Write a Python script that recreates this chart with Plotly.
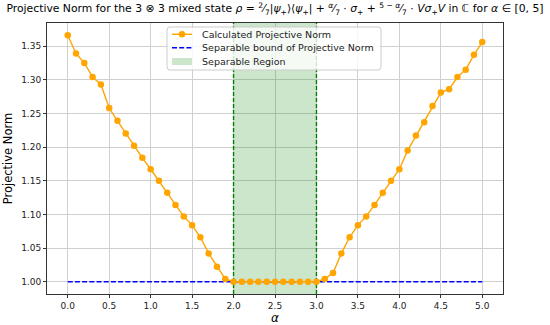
import plotly.graph_objects as go

alpha = [round(i * 0.1, 1) for i in range(51)]
norm = [1.366, 1.339, 1.325, 1.304, 1.293, 1.258, 1.239, 1.220, 1.202, 1.184,
        1.167, 1.150, 1.132, 1.114, 1.097, 1.084, 1.066, 1.042, 1.022, 1.004,
        1.000, 1.000, 1.000, 1.000, 1.000, 1.000, 1.000, 1.000, 1.000, 1.000,
        1.000, 1.004, 1.013, 1.042, 1.066, 1.084, 1.097, 1.114, 1.132, 1.150,
        1.167, 1.195, 1.217, 1.237, 1.261, 1.281, 1.286, 1.304, 1.315, 1.337,
        1.356]
bound = 1.0
sep_lo, sep_hi = 2.0, 3.0
xticks = [0.0, 0.5, 1.0, 1.5, 2.0, 2.5, 3.0, 3.5, 4.0, 4.5, 5.0]
yticks = [1.00, 1.05, 1.10, 1.15, 1.20, 1.25, 1.30, 1.35]
legend_labels = ["Calculated Projective Norm", "Separable bound of Projective Norm", "Separable Region"]

W, H = 550, 325
ML, MR, MT, MB = 47, 47, 23, 31
PW, PH = W - ML - MR, H - MT - MB

yr = [0.9817, 1.3843]
xr = [-0.25, 5.25]

ORANGE = "orange"
BLUE = "#0000ff"
GREEN = "#008000"
DASH = "5px,2.2px"
font = "DejaVu Sans"
fig = go.Figure()

fig.add_trace(go.Scatter(
    x=[sep_lo, sep_hi, sep_hi, sep_lo, sep_lo], y=[yr[0], yr[0], yr[1], yr[1], yr[0]],
    fill="toself", fillcolor="rgba(0,128,0,0.2)", mode="lines", line=dict(width=0),
    name=legend_labels[2], showlegend=False, hoverinfo="skip"))
for xv in (sep_lo, sep_hi):
    fig.add_trace(go.Scatter(x=[xv, xv], y=yr, mode="lines", showlegend=False,
                             line=dict(color=GREEN, width=1.4, dash="4px,2px")))
fig.add_trace(go.Scatter(x=[alpha[0], alpha[-1]], y=[bound, bound], mode="lines",
                         line=dict(color=BLUE, width=1.4, dash=DASH),
                         name=legend_labels[1], showlegend=False))
fig.add_trace(go.Scatter(x=alpha, y=norm, mode="lines+markers",
                         line=dict(color=ORANGE, width=1.4),
                         marker=dict(color=ORANGE, size=6.5),
                         name=legend_labels[0], showlegend=False))

# ---- manual legend (matplotlib-like compact legend) ----
def px(x):
    return (x - ML) / PW

def py(y):
    return 1 - (y - MT) / PH

bx0, bx1, by0, by1, r = 167, 381, 27, 70, 3
rx, ry = r / PW, r / PH
X0, X1, Y0, Y1 = px(bx0), px(bx1), py(by0), py(by1)
path = (f"M {X0+rx},{Y0} L {X1-rx},{Y0} Q {X1},{Y0} {X1},{Y0-ry} "
        f"L {X1},{Y1+ry} Q {X1},{Y1} {X1-rx},{Y1} L {X0+rx},{Y1} "
        f"Q {X0},{Y1} {X0},{Y1+ry} L {X0},{Y0-ry} Q {X0},{Y0} {X0+rx},{Y0} Z")
shapes = [dict(type="path", path=path, xref="paper", yref="paper", layer="above",
               fillcolor="rgba(255,255,255,0.8)", line=dict(color="#cccccc", width=1))]
rows = [34.3, 47.8, 61.5]
lx0, lx1, tx = 172, 192, 200
shapes.append(dict(type="line", xref="paper", yref="paper", layer="above",
                   x0=px(lx0), x1=px(lx1), y0=py(rows[0]), y1=py(rows[0]),
                   line=dict(color=ORANGE, width=1.4)))
mr = 3.25
shapes.append(dict(type="circle", xref="paper", yref="paper", layer="above",
                   x0=px(182 - mr), x1=px(182 + mr), y0=py(rows[0] + mr), y1=py(rows[0] - mr),
                   fillcolor=ORANGE, line=dict(color=ORANGE, width=0)))
shapes.append(dict(type="line", xref="paper", yref="paper", layer="above",
                   x0=px(lx0), x1=px(lx1), y0=py(rows[1]), y1=py(rows[1]),
                   line=dict(color=BLUE, width=1.4, dash=DASH)))
shapes.append(dict(type="rect", xref="paper", yref="paper", layer="above",
                   x0=px(lx0), x1=px(lx1), y0=py(rows[2] + 3.5), y1=py(rows[2] - 3.5),
                   fillcolor="rgba(0,128,0,0.2)", line=dict(width=0)))
annotations = [dict(text=lab, xref="paper", yref="paper", x=px(tx), y=py(yy),
                    xanchor="left", yanchor="middle", showarrow=False,
                    font=dict(size=9.5, color="#222", family=font))
               for lab, yy in zip(legend_labels, rows)]

title = ("Projective Norm for the 3 ⊗ 3 mixed state <i>ρ</i> = <sup>2</sup>⁄<sub>7</sub>|<i>ψ</i><sub>+</sub>⟩⟨<i>ψ</i><sub>+</sub>| + "
         "<sup><i>α</i></sup>⁄<sub>7</sub> · <i>σ</i><sub>+</sub> + <sup>5 − <i>α</i></sup>⁄<sub>7</sub> · "
         "<i>Vσ</i><sub>+</sub><i>V</i> in ℂ for <i>α</i> ∈ [0, 5]")

fig.update_layout(
    width=W, height=H,
    margin=dict(l=ML, r=MR, t=MT, b=MB, autoexpand=False),
    paper_bgcolor="white", plot_bgcolor="white",
    font=dict(family=font, size=9, color="#222"),
    title=dict(text=title, x=0.5, xanchor="center", y=0.985, yanchor="top",
               font=dict(size=10.8, color="black")),
    showlegend=False,
    shapes=shapes, annotations=annotations,
)
fig.update_xaxes(range=xr, tickvals=xticks, ticktext=[f"{v:.1f}" for v in xticks],
                 showgrid=True, gridcolor="#d0d0d0", gridwidth=1, automargin=False,
                 showline=True, linecolor="#333", linewidth=1, mirror=True,
                 ticks="outside", ticklen=3, tickcolor="#333", zeroline=False,
                 title=dict(text="<i>α</i>", font=dict(size=12, color="black"), standoff=0))
fig.update_yaxes(range=yr, tickvals=yticks, ticktext=[f"{v:.2f}" for v in yticks],
                 showgrid=True, gridcolor="#d0d0d0", gridwidth=1, automargin=False,
                 showline=True, linecolor="#333", linewidth=1, mirror=True,
                 ticks="outside", ticklen=3, tickcolor="#333", zeroline=False,
                 title=dict(text="Projective Norm", font=dict(size=11.5, color="black"), standoff=6))

fig.write_html("out.html", config={"displayModeBar": False},
               post_script="document.body.style.margin='0';")
